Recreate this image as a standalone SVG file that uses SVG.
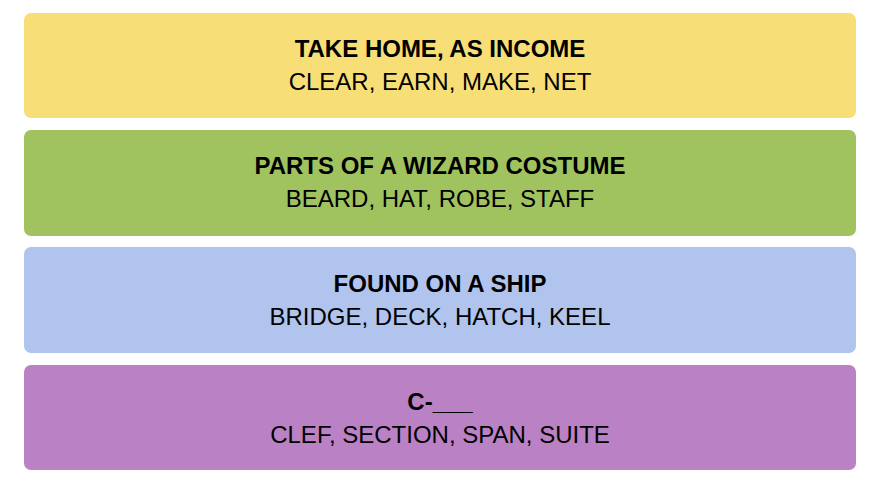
<svg xmlns="http://www.w3.org/2000/svg" width="869" height="484" viewBox="0 0 869 484">
<style>
.c{stroke:none}
.t{font-family:"Liberation Sans",Arial,sans-serif;font-weight:bold;font-size:24px;text-anchor:middle;fill:#000}
.w{font-family:"Liberation Sans",Arial,sans-serif;font-size:24px;text-anchor:middle;fill:#000}
</style>
<rect width="869" height="484" fill="#fff"/>
<g id="yellow"><rect class="c" x="24" y="13" width="832" height="105" rx="7" fill="#f7de77"/>
<text class="t" x="440" y="57">TAKE HOME, AS INCOME</text><text class="w" x="440" y="90">CLEAR, EARN, MAKE, NET</text></g>
<g id="green"><rect class="c" x="24" y="130" width="832" height="106" rx="7" fill="#a0c35f"/>
<text class="t" x="440" y="174">PARTS OF A WIZARD COSTUME</text><text class="w" x="440" y="207">BEARD, HAT, ROBE, STAFF</text></g>
<g id="blue"><rect class="c" x="24" y="247" width="832" height="106" rx="7" fill="#b0c4ee"/>
<text class="t" x="440" y="292">FOUND ON A SHIP</text><text class="w" x="440" y="325">BRIDGE, DECK, HATCH, KEEL</text></g>
<g id="purple"><rect class="c" x="24" y="365" width="832" height="105" rx="7" fill="#ba82c4"/>
<text class="t" x="440" y="410">C-___</text><text class="w" x="440" y="443">CLEF, SECTION, SPAN, SUITE</text></g>
<g id="connectors"/>
</svg>
